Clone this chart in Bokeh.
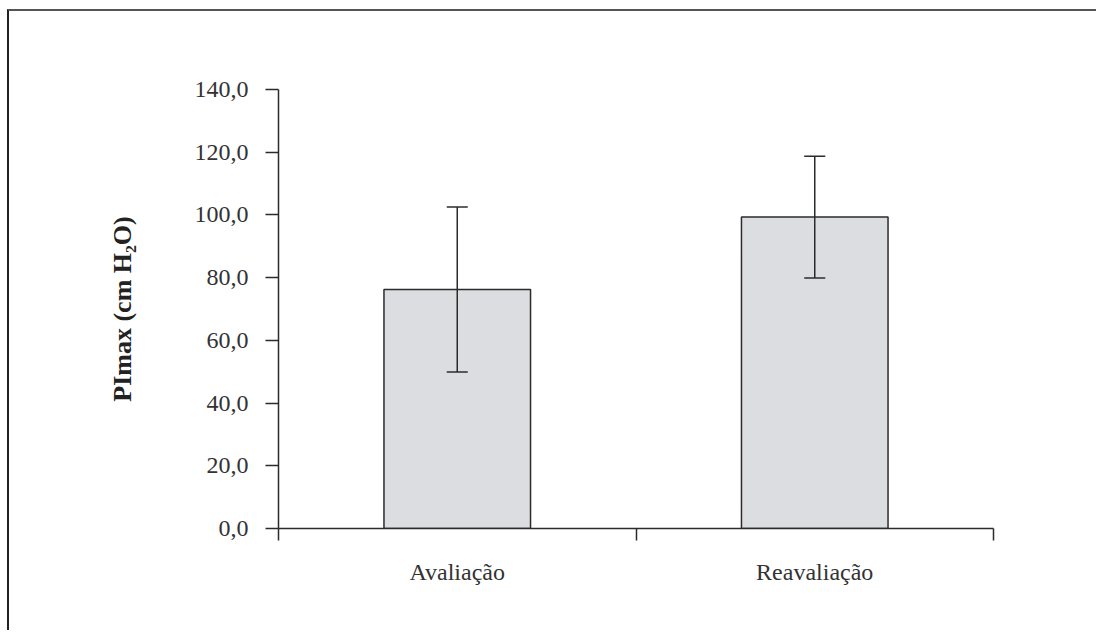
from bokeh.plotting import figure
from bokeh.models import (ColumnDataSource, Whisker, TeeHead, Range1d,
                          LinearAxis, FixedTicker, CustomJSTickFormatter)
from bokeh.embed import file_html
from bokeh.resources import INLINE

categories = ["Avaliação", "Reavaliação"]
means = [76.2, 99.3]
sds = [26.3, 19.4]
y_ticks = [0, 20, 40, 60, 80, 100, 120, 140]
y_label = "PImax (cm H₂O)"

FONT = "Liberation Serif"
DARK = "#2b2b2b"

n = len(categories)
centers = [i + 0.5 for i in range(n)]
boundaries = list(range(n + 1))

src = ColumnDataSource(data=dict(
    x=centers,
    cat=categories,
    mean=means,
    upper=[m + s for m, s in zip(means, sds)],
    lower=[m - s for m, s in zip(means, sds)],
))

p = figure(width=1089, height=621, x_range=Range1d(0, n),
           y_range=Range1d(0, 140), x_axis_type=None, y_axis_type=None,
           output_backend="svg", toolbar_location=None,
           min_border_left=269, min_border_right=105, min_border_top=78, min_border_bottom=104,
           styles={"border-top": "2px solid #555555", "border-left": "2px solid #222222",
                   "margin-top": "9px", "margin-left": "7px"})
p.grid.visible = False
p.outline_line_color = None
p.background_fill_color = "white"
p.border_fill_color = "white"

p.vbar(x="x", top="mean", width=0.41, source=src, fill_color="#dcdde0",
       line_color=DARK, line_width=1.5)

w = Whisker(source=src, base="x", upper="upper", lower="lower", level="overlay",
            line_color=DARK, line_width=1.5,
            upper_head=TeeHead(size=21, line_color=DARK, line_width=1.5),
            lower_head=TeeHead(size=21, line_color=DARK, line_width=1.5))
p.add_layout(w)

# y axis
yax = LinearAxis(ticker=FixedTicker(ticks=y_ticks, minor_ticks=[]),
                 formatter=CustomJSTickFormatter(code="return tick.toFixed(1).replace('.', ',');"))
yax.axis_line_color = DARK
yax.axis_line_width = 1.5
yax.major_tick_line_color = DARK
yax.major_tick_line_width = 1.5
yax.major_tick_out = 13
yax.major_tick_in = 0
yax.minor_tick_line_color = None
yax.major_label_text_font = FONT
yax.major_label_text_font_size = "24px"
yax.major_label_text_color = "#333333"
yax.major_label_standoff = 17
yax.axis_label = y_label
yax.axis_label_text_font = FONT
yax.axis_label_text_font_style = "bold"
yax.axis_label_text_font_size = "26px"
yax.axis_label_text_color = "#222222"
yax.axis_label_standoff = 55
p.add_layout(yax, "left")

# boundary ticks axis (ticks only)
xax = LinearAxis(ticker=FixedTicker(ticks=boundaries, minor_ticks=[]),
                 formatter=CustomJSTickFormatter(code="return '';"))
xax.axis_line_color = DARK
xax.axis_line_width = 1.5
xax.major_tick_line_color = DARK
xax.major_tick_line_width = 1.5
xax.major_tick_out = 12
xax.major_tick_in = 0
xax.minor_tick_line_color = None
xax.major_label_text_font_size = "4px"
xax.major_label_standoff = 0
p.add_layout(xax, "below")

# category labels axis
cax = LinearAxis(ticker=FixedTicker(ticks=centers, minor_ticks=[]),
                 formatter=CustomJSTickFormatter(args=dict(labels=categories),
                                                 code="return labels[Math.floor(tick)];"))
cax.axis_line_color = None
cax.major_tick_line_color = None
cax.minor_tick_line_color = None
cax.major_tick_out = 0
cax.major_tick_in = 0
cax.major_label_text_font = FONT
cax.major_label_text_font_size = "24px"
cax.major_label_text_color = "#333333"
cax.major_label_standoff = 18
p.add_layout(cax, "below")

open("out.html", "w").write(file_html(p, INLINE))
